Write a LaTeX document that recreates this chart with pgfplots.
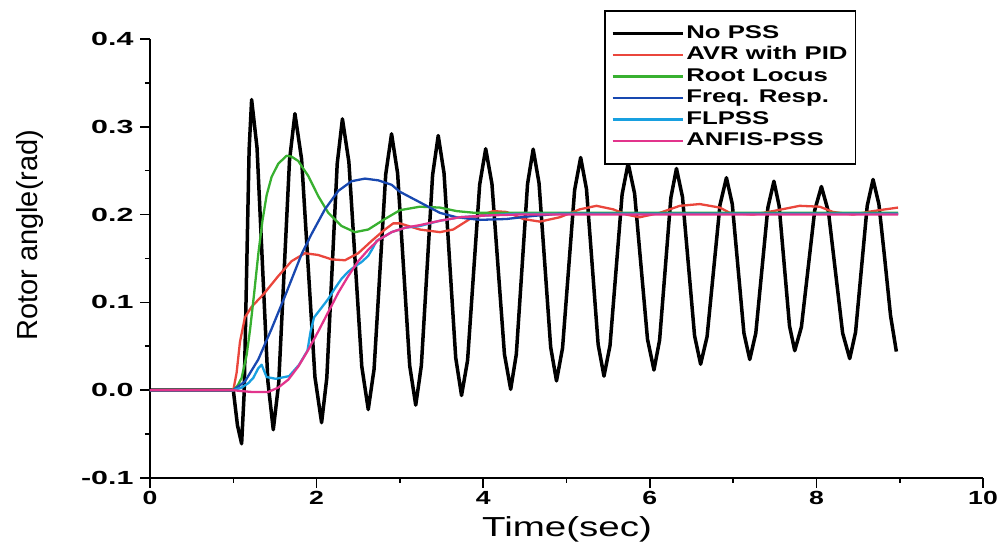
\documentclass[border=0pt]{standalone}
\usepackage{fontspec}
\setmainfont{Liberation Sans}[FakeStretch=1.4]
\newfontfamily\ylabfont{Liberation Sans}
\newfontfamily\yticfont{Liberation Sans}[FakeStretch=1.6]
\usepackage{pgfplots}
\pgfplotsset{compat=1.18}
\definecolor{cred}{RGB}{234,70,60}
\definecolor{cgreen}{RGB}{56,176,48}
\definecolor{cblue}{RGB}{24,72,176}
\definecolor{clblue}{RGB}{24,160,224}
\definecolor{cpink}{RGB}{226,52,140}
\begin{document}
\begin{tikzpicture}
\begin{axis}[
  at={(0pt,0pt)}, anchor=south west,
  scale only axis, width=833pt, height=439pt,
  xmin=0, xmax=10, ymin=-0.1, ymax=0.4,
  axis x line*=bottom, axis y line*=left,
  axis line style={line width=2pt, -},
  xtick={0,2,4,6,8,10}, minor xtick={1,3,5,7,9},
  ytick={-0.1,0,0.1,0.2,0.3,0.4}, minor ytick={-0.05,0.05,0.15,0.25,0.35},
  tick align=outside, tick style={line width=1.6pt, black},
  major tick length=10pt, minor tick length=5pt,
  /pgf/number format/assume math mode=true,
  xticklabel style={font=\bfseries\fontsize{19}{19}\selectfont},
  yticklabel style={font=\yticfont\bfseries\fontsize{19}{19}\selectfont, xshift=-3pt,
    /pgf/number format/.cd, fixed, fixed zerofill, precision=1},
  xlabel={Time(sec)}, ylabel={Rotor angle(rad)},
  xlabel style={font=\fontsize{27.5}{30}\selectfont, at={(axis description cs:0.5006,-0.118)}, anchor=center},
  ylabel style={font=\ylabfont\fontsize{29}{30}\selectfont, at={(axis description cs:-0.144,0.553)}, anchor=center, rotate=0},
  legend style={at={(axis description cs:0.545,1.066)}, anchor=north west,
    draw=black, line width=1.6pt, inner xsep=6pt, inner ysep=12pt,
    font=\bfseries\fontsize{18.4}{19}\selectfont,
    nodes={text height=13.5pt, text depth=4pt, inner sep=2pt}},
  legend cell align=left,
  legend image code/.code={\path (-6pt,0pt) -- (0pt,0pt); \draw[#1] (0pt,0pt) -- (64pt,0pt);},
  every axis plot/.append style={line join=round},
]
\addplot[black, line width=3.5pt] coordinates {
(0,0) (1.0,0) (1.05,-0.040) (1.10,-0.061) (1.13,-0.004) (1.16,0.135) (1.19,0.274) (1.22,0.331)
(1.285,0.276) (1.35,0.143) (1.415,0.010) (1.48,-0.045) (1.545,0.008) (1.61,0.135) (1.675,0.262) (1.74,0.315)
(1.82,0.263) (1.90,0.139) (1.98,0.015) (2.06,-0.037) (2.1225,0.014) (2.185,0.136) (2.2475,0.258) (2.31,0.309)
(2.3875,0.260) (2.465,0.1435) (2.5425,0.027) (2.62,-0.022) (2.69,0.024) (2.76,0.135) (2.83,0.246) (2.90,0.292)
(2.9725,0.247) (3.045,0.1375) (3.1175,0.028) (3.19,-0.017) (3.2575,0.028) (3.325,0.1365) (3.3925,0.245) (3.46,0.290)
(3.53,0.247) (3.60,0.142) (3.67,0.037) (3.74,-0.006) (3.8125,0.034) (3.885,0.1345) (3.9575,0.234) (4.03,0.275)
(4.105,0.235) (4.18,0.138) (4.255,0.041) (4.33,0.001) (4.3975,0.041) (4.465,0.138) (4.5325,0.235) (4.60,0.2745)
(4.67,0.236) (4.74,0.143) (4.81,0.049) (4.88,0.0106) (4.9525,0.048) (5.025,0.138) (5.0975,0.228) (5.17,0.265)
(5.24,0.229) (5.31,0.1405) (5.38,0.052) (5.45,0.016) (5.5225,0.051) (5.595,0.137) (5.6675,0.223) (5.74,0.2585)
(5.8175,0.224) (5.895,0.141) (5.9725,0.058) (6.05,0.023) (6.1175,0.057) (6.185,0.138) (6.2525,0.219) (6.32,0.2525)
(6.3925,0.220) (6.465,0.141) (6.5375,0.062) (6.61,0.0296) (6.6875,0.061) (6.765,0.136) (6.8425,0.211) (6.92,0.242)
(6.99,0.212) (7.06,0.1385) (7.13,0.065) (7.20,0.035) (7.2725,0.065) (7.345,0.1365) (7.4175,0.208) (7.49,0.238)
(7.5525,0.210) (7.615,0.1415) (7.6775,0.073) (7.74,0.045) (7.82,0.072) (7.90,0.1385) (7.98,0.205) (8.06,0.232)
(8.145,0.203) (8.23,0.134) (8.315,0.065) (8.40,0.036) (8.47,0.066) (8.54,0.138) (8.61,0.210) (8.68,0.240)
(8.75,0.212) (8.82,0.150) (8.89,0.085) (8.96,0.044)
};
\addlegendentry{No PSS}
\addplot[cred, line width=2.3pt] coordinates {
(0,0) (1.0,0) (1.04,0.020) (1.08,0.055) (1.14,0.083) (1.22,0.095) (1.36,0.109) (1.54,0.130)
(1.70,0.147) (1.86,0.156) (2.02,0.154) (2.18,0.149) (2.34,0.148) (2.50,0.156) (2.66,0.170) (2.82,0.183)
(2.92,0.190) (3.00,0.190) (3.24,0.183) (3.48,0.180) (3.64,0.183) (3.84,0.195) (4.12,0.204) (4.28,0.203)
(4.48,0.195) (4.68,0.192) (4.92,0.197) (5.16,0.206) (5.36,0.210) (5.56,0.206) (5.72,0.200) (5.88,0.197)
(6.12,0.202) (6.36,0.210) (6.60,0.212) (6.84,0.208) (6.96,0.202) (7.24,0.200) (7.48,0.204) (7.80,0.210)
(8.04,0.209) (8.20,0.203) (8.44,0.200) (8.68,0.204) (8.98,0.208)
};
\addlegendentry{AVR with PID}
\addplot[cgreen, line width=2.3pt] coordinates {
(0,0) (1.0,0) (1.05,0.005) (1.10,0.014) (1.16,0.040) (1.20,0.068) (1.25,0.110) (1.30,0.155)
(1.35,0.193) (1.40,0.222) (1.46,0.243) (1.54,0.258) (1.64,0.267) (1.70,0.266) (1.78,0.261) (1.90,0.244)
(2.02,0.221) (2.14,0.202) (2.30,0.187) (2.46,0.180) (2.62,0.183) (2.82,0.195) (3.00,0.205) (3.24,0.209)
(3.48,0.208) (3.68,0.204) (3.90,0.202) (8.98,0.202)
};
\addlegendentry{Root Locus}
\addplot[cblue, line width=2.3pt] coordinates {
(0,0) (1.0,0) (1.14,0.010) (1.30,0.035) (1.46,0.070) (1.62,0.107) (1.82,0.155) (1.94,0.178)
(2.10,0.206) (2.26,0.227) (2.42,0.238) (2.58,0.241) (2.74,0.239) (2.90,0.234) (3.00,0.226) (3.24,0.214)
(3.48,0.202) (3.68,0.197) (3.96,0.194) (4.28,0.195) (4.60,0.1985) (4.92,0.201) (8.98,0.201)
};
\addlegendentry{Freq. Resp.}
\addplot[clblue, line width=2.3pt] coordinates {
(0,0) (1.0,0) (1.10,0.003) (1.18,0.008) (1.24,0.014) (1.30,0.025) (1.34,0.029) (1.40,0.015)
(1.51,0.013) (1.67,0.016) (1.79,0.029) (1.89,0.045) (1.93,0.068) (1.97,0.083) (2.06,0.094) (2.14,0.104)
(2.22,0.116) (2.30,0.127) (2.38,0.135) (2.46,0.141) (2.54,0.146) (2.62,0.153) (2.67,0.161) (2.72,0.170)
(2.90,0.180) (3.06,0.185) (3.24,0.187) (3.48,0.193) (3.72,0.197) (4.04,0.199) (4.40,0.201) (8.98,0.201)
};
\addlegendentry{FLPSS}
\addplot[cpink, line width=2.3pt] coordinates {
(0,0) (1.0,0) (1.10,-0.001) (1.22,-0.002) (1.42,-0.002) (1.54,0.003) (1.66,0.012) (1.78,0.027)
(1.90,0.046) (2.02,0.067) (2.14,0.089) (2.26,0.111) (2.38,0.130) (2.50,0.147) (2.62,0.160) (2.74,0.171)
(2.90,0.180) (3.06,0.185) (3.24,0.188) (3.48,0.193) (3.72,0.197) (4.04,0.199) (4.40,0.200) (8.98,0.200)
};
\addlegendentry{ANFIS-PSS}
\end{axis}
\path[use as bounding box] (-150pt,-67pt) rectangle (858pt,478pt);
\end{tikzpicture}
\end{document}
